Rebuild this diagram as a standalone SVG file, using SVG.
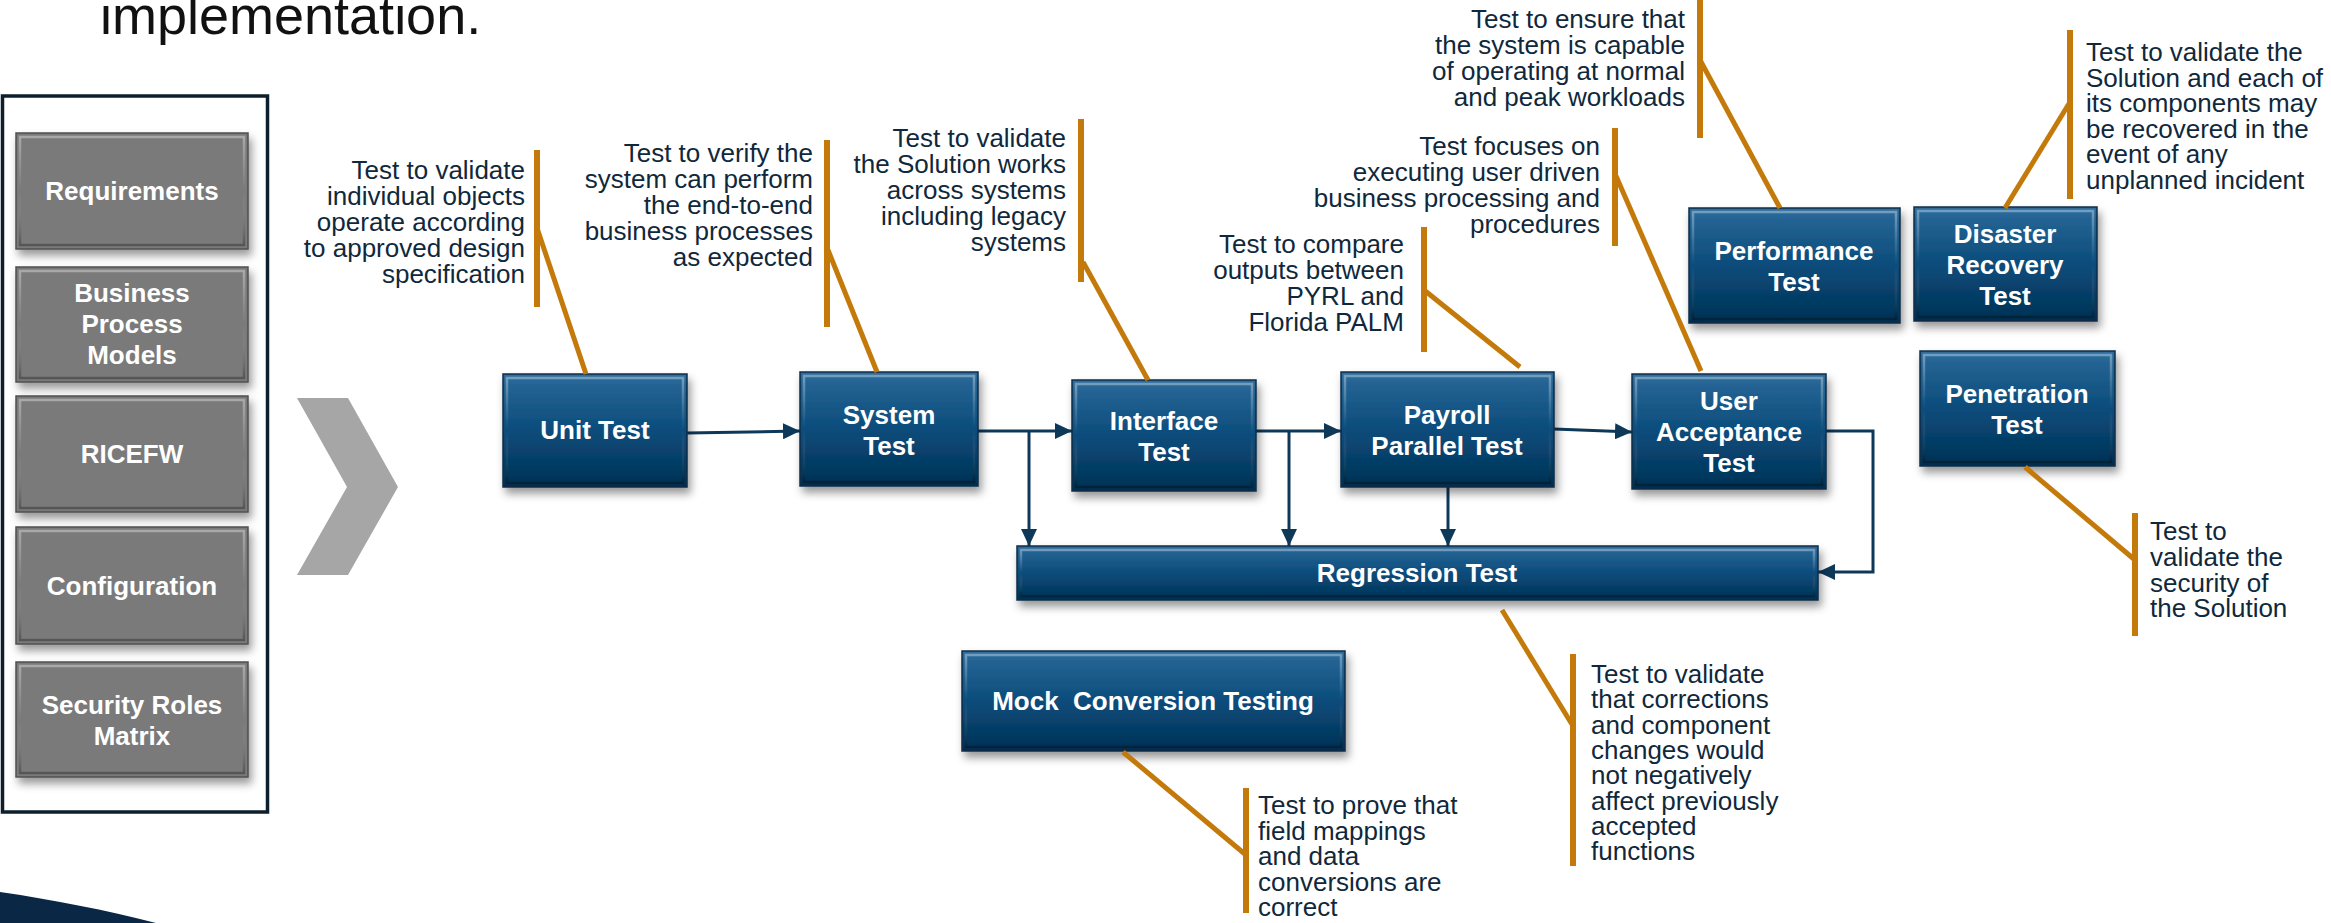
<svg xmlns="http://www.w3.org/2000/svg" width="2331" height="923" viewBox="0 0 2331 923">
<defs>
<linearGradient id="blueGrad" x1="0" y1="0" x2="0" y2="1">
<stop offset="0" stop-color="#2f6e9e"/>
<stop offset="0.1" stop-color="#246393"/>
<stop offset="0.5" stop-color="#0b4c7b"/>
<stop offset="0.9" stop-color="#03375d"/>
<stop offset="1" stop-color="#022d4e"/>
</linearGradient>
<linearGradient id="bevel" x1="0" y1="0" x2="0" y2="1">
<stop offset="0" stop-color="#ffffff" stop-opacity="0.35"/>
<stop offset="0.5" stop-color="#ffffff" stop-opacity="0"/>
<stop offset="1" stop-color="#000000" stop-opacity="0.3"/>
</linearGradient>
<filter id="shadow" x="-10%" y="-10%" width="130%" height="140%">
<feDropShadow dx="3" dy="6" stdDeviation="4" flood-color="#000" flood-opacity="0.4"/>
</filter>
<marker id="arrow" markerUnits="userSpaceOnUse" markerWidth="18" markerHeight="16" refX="17" refY="8" orient="auto">
<path d="M0,0 L17,8 L0,16 Z" fill="#0e3858"/>
</marker>
<style>
.blue{fill:url(#blueGrad);stroke:#0b2d48;stroke-width:1.5;filter:url(#shadow)}
.gray{fill:#7a7a7a;stroke:#505050;stroke-width:1.5;filter:url(#shadow)}
.bev{fill:none;stroke:url(#bevel);stroke-width:2.5}
.bt{font-family:"Liberation Sans",Arial,sans-serif;font-weight:bold;font-size:26px;fill:#ffffff;text-anchor:middle}
.ct{font-family:"Liberation Sans",Arial,sans-serif;font-size:26px;fill:#10283b}
.end{text-anchor:end}
.bar{stroke:#c47a0a;stroke-width:6;fill:none}
.diag{stroke:#c47a0a;stroke-width:5;fill:none}
.conn{stroke:#0e3858;stroke-width:3;fill:none}
.title{font-family:"Liberation Sans",Arial,sans-serif;font-size:54px;fill:#111111}
</style>
</defs>
<rect width="2331" height="923" fill="#ffffff"/>

<text class="title" x="100" y="34">implementation.</text>

<path d="M0,892 C55,900 105,910 156,923 L0,923 Z" fill="#0a2746"/>

<g id="inputs-panel">
<rect x="2.5" y="96" width="265" height="716" fill="#ffffff" stroke="#0d1f2d" stroke-width="3.5"/>
</g>
<g id="node-requirements">
<rect class="gray" x="16" y="133" width="232" height="116"/>
<rect class="bev" x="20" y="137" width="224" height="108"/>
<text class="bt" x="132" y="200">Requirements</text>
</g>
<g id="node-bpm">
<rect class="gray" x="16" y="267" width="232" height="115"/>
<rect class="bev" x="20" y="271" width="224" height="107"/>
<text class="bt" x="132" y="302">Business</text>
<text class="bt" x="132" y="333">Process</text>
<text class="bt" x="132" y="364">Models</text>
</g>
<g id="node-ricefw">
<rect class="gray" x="16" y="396" width="232" height="116"/>
<rect class="bev" x="20" y="400" width="224" height="108"/>
<text class="bt" x="132" y="463">RICEFW</text>
</g>
<g id="node-configuration">
<rect class="gray" x="16" y="527" width="232" height="117"/>
<rect class="bev" x="20" y="531" width="224" height="109"/>
<text class="bt" x="132" y="595">Configuration</text>
</g>
<g id="node-security">
<rect class="gray" x="16" y="662" width="232" height="115"/>
<rect class="bev" x="20" y="666" width="224" height="107"/>
<text class="bt" x="132" y="714">Security Roles</text>
<text class="bt" x="132" y="745">Matrix</text>
</g>

<g id="chevron">
<polygon points="297,398 348,398 398,487 348,575 297,575 347,487" fill="#a6a6a6"/>
</g>

<g id="connectors">
<path class="conn" d="M687,433 L800,431" marker-end="url(#arrow)"/>
<path class="conn" d="M978,431 L1072,431" marker-end="url(#arrow)"/>
<path class="conn" d="M1029,431 L1029,546" marker-end="url(#arrow)"/>
<path class="conn" d="M1256,431 L1341,431" marker-end="url(#arrow)"/>
<path class="conn" d="M1289,431 L1289,546" marker-end="url(#arrow)"/>
<path class="conn" d="M1554,429 L1632,432" marker-end="url(#arrow)"/>
<path class="conn" d="M1448,487 L1448,546" marker-end="url(#arrow)"/>
<path class="conn" d="M1826,431 L1873,431 L1873,572 L1818,572" marker-end="url(#arrow)"/>
</g>

<g id="node-unit">
<rect class="blue" x="503" y="374" width="184" height="113"/>
<rect class="bev" x="507" y="378" width="176" height="105"/>
<text class="bt" x="595" y="439">Unit Test</text>
</g>
<g id="node-system">
<rect class="blue" x="800" y="372" width="178" height="114"/>
<rect class="bev" x="804" y="376" width="170" height="106"/>
<text class="bt" x="889" y="424">System</text>
<text class="bt" x="889" y="455">Test</text>
</g>
<g id="node-interface">
<rect class="blue" x="1072" y="380" width="184" height="111"/>
<rect class="bev" x="1076" y="384" width="176" height="103"/>
<text class="bt" x="1164" y="430">Interface</text>
<text class="bt" x="1164" y="461">Test</text>
</g>
<g id="node-payroll">
<rect class="blue" x="1341" y="372" width="213" height="115"/>
<rect class="bev" x="1345" y="376" width="205" height="107"/>
<text class="bt" x="1447" y="424">Payroll</text>
<text class="bt" x="1447" y="455">Parallel Test</text>
</g>
<g id="node-uat">
<rect class="blue" x="1632" y="374" width="194" height="115"/>
<rect class="bev" x="1636" y="378" width="186" height="107"/>
<text class="bt" x="1729" y="410">User</text>
<text class="bt" x="1729" y="441">Acceptance</text>
<text class="bt" x="1729" y="472">Test</text>
</g>
<g id="node-performance">
<rect class="blue" x="1689" y="208" width="211" height="115"/>
<rect class="bev" x="1693" y="212" width="203" height="107"/>
<text class="bt" x="1794" y="260">Performance</text>
<text class="bt" x="1794" y="291">Test</text>
</g>
<g id="node-disaster">
<rect class="blue" x="1914" y="207" width="183" height="114"/>
<rect class="bev" x="1918" y="211" width="175" height="106"/>
<text class="bt" x="2005" y="243">Disaster</text>
<text class="bt" x="2005" y="274">Recovery</text>
<text class="bt" x="2005" y="305">Test</text>
</g>
<g id="node-penetration">
<rect class="blue" x="1920" y="351" width="195" height="115"/>
<rect class="bev" x="1924" y="355" width="187" height="107"/>
<text class="bt" x="2017" y="403">Penetration</text>
<text class="bt" x="2017" y="434">Test</text>
</g>
<g id="node-regression">
<rect class="blue" x="1017" y="546" width="801" height="54"/>
<rect class="bev" x="1021" y="550" width="793" height="46"/>
<text class="bt" x="1417" y="582">Regression Test</text>
</g>
<g id="node-mock">
<rect class="blue" x="962" y="651" width="383" height="100"/>
<rect class="bev" x="966" y="655" width="375" height="92"/>
<text class="bt" x="1153" y="710" xml:space="preserve">Mock  Conversion Testing</text>
</g>

<g id="callout-unit">
<line class="bar" x1="537" y1="150" x2="537" y2="307"/>
<line class="diag" x1="537" y1="228" x2="586" y2="374"/>
<text class="ct end" x="525" y="179">Test to validate</text>
<text class="ct end" x="525" y="205">individual objects</text>
<text class="ct end" x="525" y="231">operate according</text>
<text class="ct end" x="525" y="257">to approved design</text>
<text class="ct end" x="525" y="283">specification</text>
</g>
<g id="callout-system">
<line class="bar" x1="827" y1="140" x2="827" y2="327"/>
<line class="diag" x1="828" y1="250" x2="877" y2="372"/>
<text class="ct end" x="813" y="162">Test to verify the</text>
<text class="ct end" x="813" y="188">system can perform</text>
<text class="ct end" x="813" y="214">the end-to-end</text>
<text class="ct end" x="813" y="240">business processes</text>
<text class="ct end" x="813" y="266">as expected</text>
</g>
<g id="callout-interface">
<line class="bar" x1="1081" y1="119" x2="1081" y2="282"/>
<line class="diag" x1="1083" y1="262" x2="1148" y2="380"/>
<text class="ct end" x="1066" y="147">Test to validate</text>
<text class="ct end" x="1066" y="173">the Solution works</text>
<text class="ct end" x="1066" y="199">across systems</text>
<text class="ct end" x="1066" y="225">including legacy</text>
<text class="ct end" x="1066" y="251">systems</text>
</g>
<g id="callout-payroll">
<line class="bar" x1="1424" y1="227" x2="1424" y2="352"/>
<line class="diag" x1="1424" y1="290" x2="1520" y2="367"/>
<text class="ct end" x="1404" y="253">Test to compare</text>
<text class="ct end" x="1404" y="279">outputs between</text>
<text class="ct end" x="1404" y="305">PYRL and</text>
<text class="ct end" x="1404" y="331">Florida PALM</text>
</g>
<g id="callout-uat">
<line class="bar" x1="1615" y1="128" x2="1615" y2="246"/>
<line class="diag" x1="1616" y1="176" x2="1701" y2="371"/>
<text class="ct end" x="1600" y="155">Test focuses on</text>
<text class="ct end" x="1600" y="181">executing user driven</text>
<text class="ct end" x="1600" y="207">business processing and</text>
<text class="ct end" x="1600" y="233">procedures</text>
</g>
<g id="callout-performance">
<line class="bar" x1="1700" y1="0" x2="1700" y2="138"/>
<line class="diag" x1="1700" y1="60" x2="1780" y2="208"/>
<text class="ct end" x="1685" y="28">Test to ensure that</text>
<text class="ct end" x="1685" y="54">the system is capable</text>
<text class="ct end" x="1685" y="80">of operating at normal</text>
<text class="ct end" x="1685" y="106">and peak workloads</text>
</g>
<g id="callout-disaster">
<line class="bar" x1="2070" y1="30" x2="2070" y2="199"/>
<line class="diag" x1="2070" y1="102" x2="2005" y2="208"/>
<text class="ct" x="2086" y="61">Test to validate the</text>
<text class="ct" x="2086" y="87">Solution and each of</text>
<text class="ct" x="2086" y="112">its components may</text>
<text class="ct" x="2086" y="138">be recovered in the</text>
<text class="ct" x="2086" y="163">event of any</text>
<text class="ct" x="2086" y="189">unplanned incident</text>
</g>
<g id="callout-penetration">
<line class="bar" x1="2135" y1="513" x2="2135" y2="636"/>
<line class="diag" x1="2025" y1="467" x2="2135" y2="560"/>
<text class="ct" x="2150" y="540">Test to</text>
<text class="ct" x="2150" y="566">validate the</text>
<text class="ct" x="2150" y="592">security of</text>
<text class="ct" x="2150" y="617">the Solution</text>
</g>
<g id="callout-regression">
<line class="bar" x1="1573" y1="654" x2="1573" y2="866"/>
<line class="diag" x1="1502" y1="610" x2="1573" y2="726"/>
<text class="ct" x="1591" y="683">Test to validate</text>
<text class="ct" x="1591" y="708">that corrections</text>
<text class="ct" x="1591" y="734">and component</text>
<text class="ct" x="1591" y="759">changes would</text>
<text class="ct" x="1591" y="784">not negatively</text>
<text class="ct" x="1591" y="810">affect previously</text>
<text class="ct" x="1591" y="835">accepted</text>
<text class="ct" x="1591" y="860">functions</text>
</g>
<g id="callout-mock">
<line class="bar" x1="1246" y1="788" x2="1246" y2="913"/>
<line class="diag" x1="1123" y1="752" x2="1246" y2="855"/>
<text class="ct" x="1258" y="814">Test to prove that</text>
<text class="ct" x="1258" y="840">field mappings</text>
<text class="ct" x="1258" y="865">and data</text>
<text class="ct" x="1258" y="891">conversions are</text>
<text class="ct" x="1258" y="916">correct</text>
</g>
</svg>
